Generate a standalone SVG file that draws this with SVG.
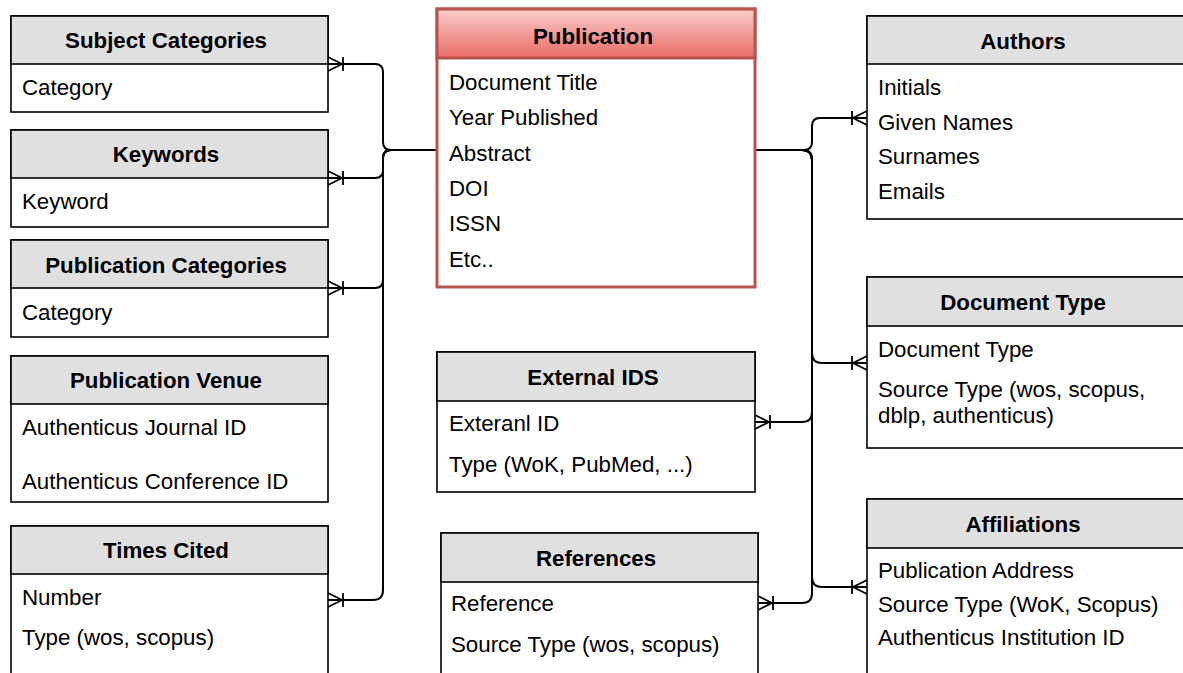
<svg xmlns="http://www.w3.org/2000/svg" width="1183" height="673" viewBox="0 0 1183 673">
<style>
.box{fill:#ffffff;stroke:#000000;stroke-width:1.6}
.hdr{fill:#e0e0e0;stroke:#000000;stroke-width:1.6}
.ht{font-family:"Liberation Sans",Arial,sans-serif;font-size:22.3px;font-weight:bold;fill:#000;text-anchor:middle}
.bt{font-family:"Liberation Sans",Arial,sans-serif;font-size:22.3px;fill:#000}
.conn{fill:none;stroke:#000000;stroke-width:2;marker-end:url(#crow)}
</style>
<defs>
<linearGradient id="pubg" x1="0" y1="0" x2="0" y2="1">
<stop offset="0" stop-color="#f8cecc"/>
<stop offset="1" stop-color="#ea6b66"/>
</linearGradient>
<marker id="crow" markerUnits="userSpaceOnUse" markerWidth="20" markerHeight="20" refX="18" refY="10" orient="auto" viewBox="0 0 20 20" overflow="visible">
<path d="M18,3 L4,10 L18,17 M18,10 L4,10 M3,3 L3,17" fill="none" stroke="#000" stroke-width="1.8"/>
</marker>
</defs>
<rect width="1183" height="673" fill="#ffffff"/>

<g id="connectors">
<path class="conn" d="M437,150 L391,150 Q383,150 383,142 L383,72 Q383,64 375,64 L328,64"/>
<path class="conn" d="M437,150 L391,150 Q383,150 383,158 L383,170 Q383,178 375,178 L328,178"/>
<path class="conn" d="M437,150 L391,150 Q383,150 383,158 L383,280 Q383,288 375,288 L328,288"/>
<path class="conn" d="M437,150 L391,150 Q383,150 383,158 L383,590 Q383,600 373,600 L328,600"/>
<path class="conn" d="M755,150 L804,150 Q812,150 812,142 L812,126 Q812,118 820,118 L867,118"/>
<path class="conn" d="M755,150 L802,150 Q812,150 812,160 L812,353 Q812,363 822,363 L867,363"/>
<path class="conn" d="M755,150 L802,150 Q812,150 812,160 L812,412 Q812,422 802,422 L755,422"/>
<path class="conn" d="M755,150 L802,150 Q812,150 812,160 L812,577 Q812,587 822,587 L867,587"/>
<path class="conn" d="M755,150 L802,150 Q812,150 812,160 L812,593 Q812,603 802,603 L758,603"/>
</g>

<g id="subject-categories">
<rect class="box" x="11" y="16" width="317" height="96"/>
<rect class="hdr" x="11" y="16" width="317" height="48"/>
<text class="ht" x="166" y="48">Subject Categories</text>
<text class="bt" x="22" y="95">Category</text>
</g>

<g id="keywords">
<rect class="box" x="11" y="130" width="317" height="97"/>
<rect class="hdr" x="11" y="130" width="317" height="48"/>
<text class="ht" x="166" y="162">Keywords</text>
<text class="bt" x="22" y="209">Keyword</text>
</g>

<g id="publication-categories">
<rect class="box" x="11" y="240" width="317" height="97"/>
<rect class="hdr" x="11" y="240" width="317" height="48"/>
<text class="ht" x="166" y="273">Publication Categories</text>
<text class="bt" x="22" y="320">Category</text>
</g>

<g id="publication-venue">
<rect class="box" x="11" y="356" width="317" height="146"/>
<rect class="hdr" x="11" y="356" width="317" height="48"/>
<text class="ht" x="166" y="388">Publication Venue</text>
<text class="bt" x="22" y="435">Authenticus Journal ID</text>
<text class="bt" x="22" y="489">Authenticus Conference ID</text>
</g>

<g id="times-cited">
<rect class="box" x="11" y="526" width="317" height="148"/>
<rect class="hdr" x="11" y="526" width="317" height="48"/>
<text class="ht" x="166" y="558">Times Cited</text>
<text class="bt" x="22" y="605">Number</text>
<text class="bt" x="22" y="645">Type (wos, scopus)</text>
</g>

<g id="publication">
<rect x="437" y="9" width="318" height="278" fill="#ffffff" stroke="#b85450" stroke-width="3"/>
<rect x="437" y="9" width="318" height="49" fill="url(#pubg)" stroke="#b85450" stroke-width="3"/>
<text class="ht" x="593" y="44">Publication</text>
<text class="bt" x="449" y="90">Document Title</text>
<text class="bt" x="449" y="125">Year Published</text>
<text class="bt" x="449" y="161">Abstract</text>
<text class="bt" x="449" y="196">DOI</text>
<text class="bt" x="449" y="231">ISSN</text>
<text class="bt" x="449" y="267">Etc..</text>
</g>

<g id="external-ids">
<rect class="box" x="437" y="352" width="318" height="140"/>
<rect class="hdr" x="437" y="352" width="318" height="49"/>
<text class="ht" x="593" y="385">External IDS</text>
<text class="bt" x="449" y="431">Exteranl ID</text>
<text class="bt" x="449" y="472">Type (WoK, PubMed, ...)</text>
</g>

<g id="references">
<rect class="box" x="441" y="533" width="317" height="141"/>
<rect class="hdr" x="441" y="533" width="317" height="49"/>
<text class="ht" x="596" y="566">References</text>
<text class="bt" x="451" y="611">Reference</text>
<text class="bt" x="451" y="652">Source Type (wos, scopus)</text>
</g>

<g id="authors">
<rect class="box" x="867" y="16" width="317" height="203"/>
<rect class="hdr" x="867" y="16" width="317" height="48"/>
<text class="ht" x="1023" y="49">Authors</text>
<text class="bt" x="878" y="95">Initials</text>
<text class="bt" x="878" y="130">Given Names</text>
<text class="bt" x="878" y="164">Surnames</text>
<text class="bt" x="878" y="199">Emails</text>
</g>

<g id="document-type">
<rect class="box" x="867" y="277" width="317" height="171"/>
<rect class="hdr" x="867" y="277" width="317" height="49"/>
<text class="ht" x="1023" y="310">Document Type</text>
<text class="bt" x="878" y="357">Document Type</text>
<text class="bt" x="878" y="397">Source Type (wos, scopus,</text>
<text class="bt" x="878" y="423">dblp, authenticus)</text>
</g>

<g id="affiliations">
<rect class="box" x="867" y="499" width="317" height="176"/>
<rect class="hdr" x="867" y="499" width="317" height="49"/>
<text class="ht" x="1023" y="532">Affiliations</text>
<text class="bt" x="878" y="578">Publication Address</text>
<text class="bt" x="878" y="612">Source Type (WoK, Scopus)</text>
<text class="bt" x="878" y="645">Authenticus Institution ID</text>
</g>
</svg>
